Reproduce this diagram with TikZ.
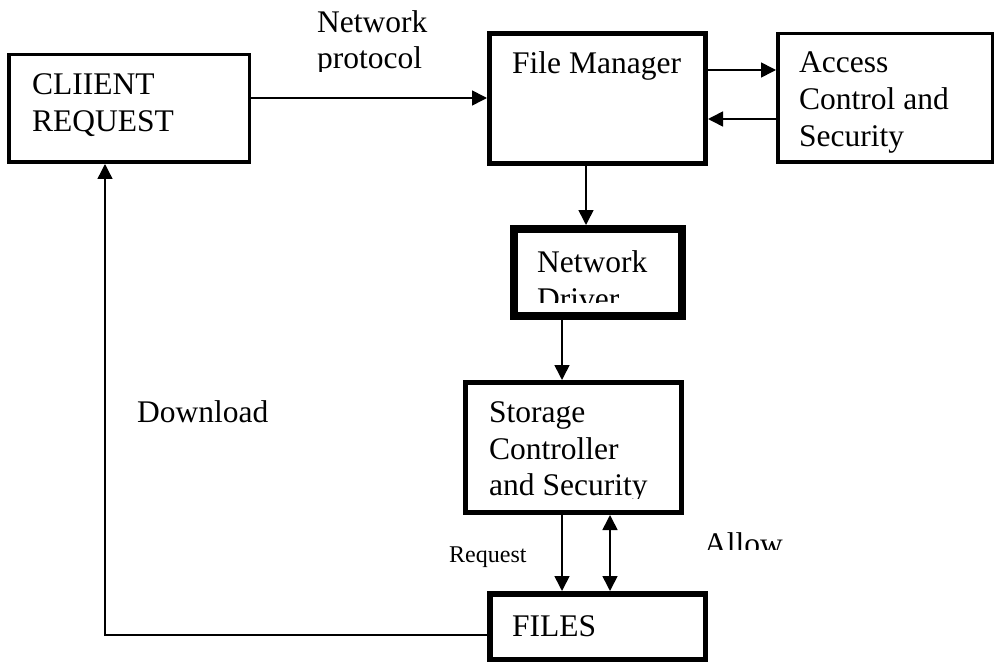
\documentclass[tikz,border=0pt]{standalone}
\usepackage{fontspec}
\setmainfont{Liberation Serif}
\usetikzlibrary{arrows.meta}
\begin{document}
\begin{tikzpicture}[x=1pt,y=-1pt,
  box/.style={draw,rectangle,inner sep=0pt,anchor=north west},
  txt/.style={anchor=base west,inner sep=0pt,font=\fontsize{31.5}{37}\selectfont},
  small/.style={anchor=base west,inner sep=0pt,font=\fontsize{24}{28}\selectfont},
  arr/.style={line width=1.6pt,-{Triangle[length=15pt,width=15pt]}},
  darr/.style={line width=1.6pt,{Triangle[length=15pt,width=15pt]}-{Triangle[length=15pt,width=15pt]}}]
\useasboundingbox (0,0) rectangle (995,663);

% boxes
\node[box,line width=3.5pt,minimum width=240.5pt,minimum height=107.5pt] (client) at (7,53) {};
\node[box,line width=5pt,minimum width=216pt,minimum height=130pt] (fm) at (487,31) {};
\node[box,line width=3.5pt,minimum width=214.5pt,minimum height=128.5pt] (acc) at (776,32) {};
\node[box,line width=8pt,minimum width=168pt,minimum height=87pt] (nd) at (510,225) {};
\node[box,line width=5pt,minimum width=216pt,minimum height=130pt] (st) at (463,380) {};
\node[box,line width=5.5pt,minimum width=215.5pt,minimum height=65.5pt] (files) at (487,591) {};

% texts
\node[txt] (t1) at (32,95) {CLIIENT};
\node[txt] (t2) at (32,132) {REQUEST};
\node[txt] (t3) at (512,74) {File Manager};
\node[txt] (t4) at (799,73) {Access};
\node[txt] (t5) at (799,110) {Control and};
\node[txt] (t6) at (799,147) {Security};
\node[txt] (t7) at (537,272) {Network};
\begin{scope}
  \clip (520,280) rectangle (680,302);
  \node[txt] (t8) at (537,309) {Driver};
\end{scope}
\node[txt] (t9) at (489,422) {Storage};
\node[txt] (t10) at (489,459) {Controller};
\begin{scope}
  \clip (470,465) rectangle (680,498);
  \node[txt] (t11) at (489,495) {and Security};
\end{scope}
\node[txt] (t12) at (512,636) {FILES};
\node[txt] (t13) at (317,33) {Network};
\begin{scope}
  \clip (300,40) rectangle (480,72);
  \node[txt] (t14) at (317,69) {protocol};
\end{scope}
\node[txt] (t15) at (137,422) {Download};
\node[small] (t16) at (449,562) {Request};
\begin{scope}
  \clip (690,520) rectangle (800,549);
  \node[txt] (t17) at (704,554) {Allow};
\end{scope}

% connector guide positions
\coordinate (ya) at (0,98);
\coordinate (yb) at (0,70);
\coordinate (yc) at (0,119);
\coordinate (xa) at (586,0);
\coordinate (xb) at (562,0);
\coordinate (xc) at (610,0);
\coordinate (dl) at (105,635);

% connectors
\draw[arr] (client.east |- ya) -- (fm.west |- ya);
\draw[arr] (fm.east |- yb) -- (acc.west |- yb);
\draw[arr] (acc.west |- yc) -- (fm.east |- yc);
\draw[arr] (fm.south -| xa) -- (nd.north -| xa);
\draw[arr] (nd.south -| xb) -- (st.north -| xb);
\draw[arr] (st.south -| xb) -- (files.north -| xb);
\draw[darr] (st.south -| xc) -- (files.north -| xc);
\draw[arr,line width=1.4pt] (files.west |- dl) -| (client.south -| dl);
\end{tikzpicture}
\end{document}
